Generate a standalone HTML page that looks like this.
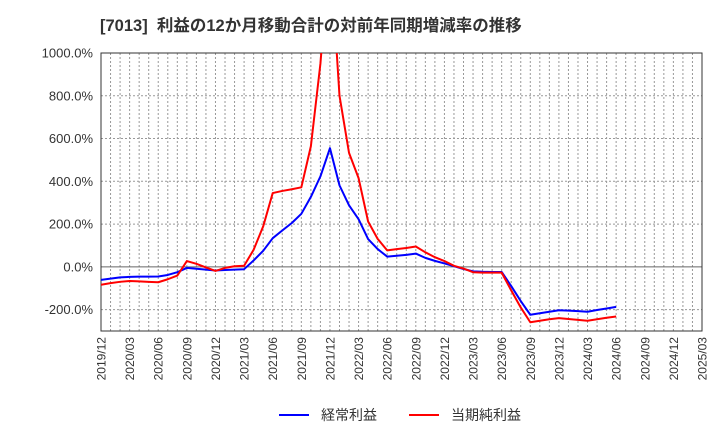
<!DOCTYPE html>
<html><head><meta charset="utf-8"><style>
body{margin:0;background:#fff;font-family:"Liberation Sans","Noto Sans CJK JP",sans-serif;}
</style></head><body>
<svg id="c" width="720" height="440" xmlns="http://www.w3.org/2000/svg" style="font-family:'Liberation Sans','Noto Sans CJK JP',sans-serif">
<text x="100" y="31" font-size="16.5" font-weight="bold" fill="#333" xml:space="preserve" style="white-space:pre">[7013]  利益の12か月移動合計の対前年同期増減率の推移</text>
<g id="grid"></g><g id="axes"></g>
<defs><clipPath id="clip"><rect x="101" y="53" width="601" height="278"/></clipPath></defs>
<g id="series" clip-path="url(#clip)"></g>
<g>
<line x1="279" y1="415" x2="309" y2="415" stroke="#0000ff" stroke-width="2"/>
<text x="321" y="420" font-size="14" fill="#333">経常利益</text>
<line x1="409" y1="415" x2="439" y2="415" stroke="#ff0000" stroke-width="2"/>
<text x="451" y="420" font-size="14" fill="#333">当期純利益</text>
</g>
</svg>
<script>
const yTicks=[1000,800,600,400,200,0,-200];
const xTickLabels=["2019/12","2020/03","2020/06","2020/09","2020/12","2021/03","2021/06","2021/09","2021/12","2022/03","2022/06","2022/09","2022/12","2023/03","2023/06","2023/09","2023/12","2024/03","2024/06","2024/09","2024/12","2025/03"];
const keijo=[-61,-55,-49,-47,-46,-46,-45,-38,-25,-5,-9,-13,-17,-15,-13,-11,30,75,134,170,205,248,327,423,555,381,288,223,130,83,48,52,56,62,42,28,16,3,-10,-21,-23,-24,-24,-90,-160,-224,-217,-210,-203,-205,-207,-210,-202,-195,-187];
const junri=[-84,-76,-70,-66,-68,-70,-72,-58,-41,27,14,-3,-19,-5,3,5,80,189,345,355,363,372,564,950,1500,800,533,415,212,131,77,83,88,95,68,45,27,5,-8,-25,-27,-27,-27,-110,-190,-259,-252,-245,-240,-244,-248,-252,-245,-238,-232];
const X0=101,X1=702,Y0=53,Y1=331,YMIN=-300,YMAX=1000,NM=63;
const xs=i=>X0+(X1-X0)*i/NM;
const ys=v=>Y1-(v-YMIN)/(YMAX-YMIN)*(Y1-Y0);
const NS="http://www.w3.org/2000/svg";
function mk(t,a,p){const e=document.createElementNS(NS,t);for(const k in a)e.setAttribute(k,a[k]);p.appendChild(e);return e;}
const g=document.getElementById('grid'),ax=document.getElementById('axes'),s=document.getElementById('series');
for(let m=1;m<NM;m++){const l=mk('line',{x1:xs(m),x2:xs(m),y1:Y0,y2:Y1,stroke:'#999','stroke-dasharray':'2,2','stroke-width':1},g);

}
yTicks.forEach(v=>{const l=mk('line',{x1:X0,x2:X1,y1:ys(v),y2:ys(v),stroke:v===0?'#666':'#999','stroke-dasharray':v===0?'none':'2,2','stroke-width':1},g);


const t=mk('text',{x:X0-8,y:ys(v)+4.5,'font-size':13,'text-anchor':'end',fill:'#333'},ax);t.textContent=v.toFixed(1)+'%';

});
xTickLabels.forEach((lab,i)=>{const x=xs(i*3);const t=mk('text',{x:0,y:0,'font-size':12,'text-anchor':'end',fill:'#333',transform:`translate(${x+4.5},${Y1+6}) rotate(-90)`},ax);t.textContent=lab;

});
const fr=mk('rect',{x:X0,y:Y0,width:X1-X0,height:Y1-Y0,fill:'none',stroke:'#333','stroke-width':1},ax);


function line(d,c,n){const p=mk('polyline',{points:d.map((v,i)=>xs(i)+','+ys(v)).join(' '),fill:'none',stroke:c,'stroke-width':2,'stroke-linejoin':'round'},s);

}
line(keijo,'#0000ff','keijo-line');
line(junri,'#ff0000','junri-line');
</script>
</body></html>
